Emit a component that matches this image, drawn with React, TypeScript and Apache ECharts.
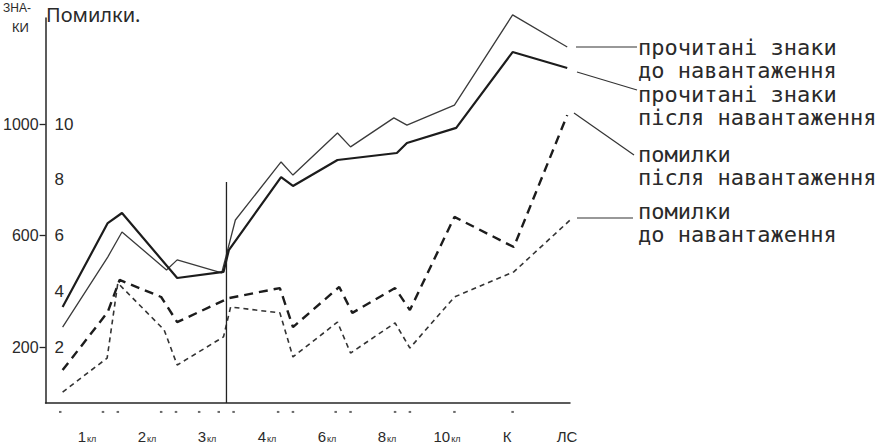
import React, { useEffect, useRef } from "react";
import * as echarts from "echarts";

// Stages along the horizontal axis
const stages = ["1кл", "2кл", "3кл", "4кл", "6кл", "8кл", "10кл", "К", "ЛС"];

// Read characters before the load (знаки)
const readBeforeX = [0.57, 1.33, 1.57, 2.32, 2.5, 3.25, 3.48, 4.25, 4.45, 5.2, 5.42, 6.15, 6.37, 7.17, 8.15, 9.07];
const readBeforeVals = [272, 523, 613, 477, 513, 466, 656, 864, 817, 968, 918, 1022, 996, 1068, 1391, 1276];

// Read characters after the load (знаки)
const readAfterX = [0.57, 1.33, 1.57, 2.5, 3.28, 3.37, 4.25, 4.45, 5.2, 6.2, 6.37, 7.2, 8.15, 9.07];
const readAfterVals = [344, 645, 681, 448, 470, 548, 810, 778, 871, 896, 932, 986, 1258, 1201];

// Errors after the load (помилки)
const errAfterX = [0.57, 1.33, 1.53, 2.23, 2.5, 3.37, 4.23, 4.45, 5.23, 5.45, 6.17, 6.42, 7.17, 8.17, 9.07];
const errAfterVals = [1.18, 3.26, 4.41, 3.8, 2.9, 3.76, 4.12, 2.72, 4.16, 3.23, 4.12, 3.33, 6.67, 5.59, 10.32];

// Errors before the load (помилки)
const errBeforeX = [0.57, 1.32, 1.5, 2.28, 2.5, 3.28, 3.4, 4.23, 4.45, 5.2, 5.42, 6.17, 6.42, 7.17, 8.17, 9.12];
const errBeforeVals = [0.39, 1.61, 4.3, 2.62, 1.36, 2.37, 3.44, 3.23, 1.65, 2.9, 1.79, 2.87, 1.97, 3.8, 4.7, 6.56];

// Measurement marks under the axis
const markX = [0.53, 1.25, 1.5, 2.23, 2.48, 2.87, 3.2, 3.45, 4.2, 4.45, 5.17, 5.42, 6.17, 6.42, 7.17, 8.15];
const markLevel = -32;

// Separator between the two phases
const separatorX = 3.33;
const separatorTop = 792;

const signTicks = [200, 600, 1000];
const errorTicks = [2, 4, 6, 8, 10];

const zip = (xs: number[], ys: number[]) => xs.map((x, i) => [x, ys[i]]);

const INK = "#262626";
const MONO = "'DejaVu Sans Mono', 'Liberation Mono', monospace";
const NARROW = "'Liberation Sans Narrow', 'Liberation Sans', 'DejaVu Sans Condensed', sans-serif";

export default function App() {
  const ref = useRef<HTMLDivElement>(null);

  useEffect(() => {
    if (!ref.current) return;
    const chart = echarts.init(ref.current, undefined, { renderer: "svg" });

    const legendText = (top: number, text: string) => ({
      type: "text",
      left: 638,
      top,
      style: {
        text,
        font: `22px ${MONO}`,
        fill: "#2a2a2a",
        lineHeight: 23,
      },
    });
    const leader = (x1: number, y1: number, x2: number, y2: number) => ({
      type: "line",
      shape: { x1, y1, x2, y2 },
      style: { stroke: "#333", lineWidth: 1.2 },
    });

    chart.setOption({
      animation: false,
      backgroundColor: "#ffffff",
      grid: [
        { left: 40, top: 18, width: 530, bottom: 44 },
        { left: 57, width: 540, top: 420, height: 1 },
      ],
      xAxis: [
        {
          type: "value",
          gridIndex: 0,
          min: 0.2833,
          max: 9.1167,
          axisLine: { show: true, onZero: false, lineStyle: { color: INK, width: 1.5 } },
          axisTick: { show: false },
          axisLabel: { show: false },
          splitLine: { show: false },
        },
        {
          type: "category",
          gridIndex: 1,
          data: stages,
          axisLine: { show: false },
          axisTick: { show: false },
          axisLabel: {
            interval: 0,
            margin: 8,
            color: "#2a2a2a",
            formatter: (v: string) => {
              if (v.endsWith("кл")) {
                return `{n|${v.slice(0, -2)}}{s|кл}`;
              }
              return `{n|${v}}`;
            },
            rich: {
              n: { fontSize: 15, fontFamily: NARROW, color: "#2a2a2a" },
              s: { fontSize: 9, fontFamily: NARROW, color: "#2a2a2a", padding: [4, 0, 0, 1] },
            },
          },
        },
      ],
      yAxis: [
        {
          type: "value",
          gridIndex: 0,
          min: 0,
          max: 1380,
          interval: 200,
          axisLine: { show: true, lineStyle: { color: INK, width: 1.5 } },
          axisTick: { show: true, length: 6, customValues: signTicks, lineStyle: { color: INK, width: 1.3 } },
          axisLabel: {
            customValues: signTicks,
            formatter: (v: number) => String(v),
            margin: 7,
            fontSize: 16,
            fontFamily: NARROW,
            color: "#2a2a2a",
          },
          splitLine: { show: false },
        },
        {
          type: "value",
          gridIndex: 0,
          position: "left",
          min: 0,
          max: 13.8,
          axisLine: { show: false },
          axisTick: { show: false },
          axisLabel: {
            inside: true,
            customValues: errorTicks,
            formatter: (v: number) => String(v),
            margin: 9,
            fontSize: 17,
            fontFamily: NARROW,
            color: "#2a2a2a",
          },
          splitLine: { show: false },
        },
        { type: "value", gridIndex: 1, show: false },
      ],
      series: [
        {
          name: "прочитані знаки до навантаження",
          type: "line",
          xAxisIndex: 0,
          yAxisIndex: 0,
          data: zip(readBeforeX, readBeforeVals),
          symbol: "none",
          clip: false,
          lineStyle: { color: "#3a3a3a", width: 1.3 },
        },
        {
          name: "прочитані знаки після навантаження",
          type: "line",
          xAxisIndex: 0,
          yAxisIndex: 0,
          data: zip(readAfterX, readAfterVals),
          symbol: "none",
          clip: false,
          lineStyle: { color: "#1c1c1c", width: 2.2 },
        },
        {
          name: "помилки після навантаження",
          type: "line",
          xAxisIndex: 0,
          yAxisIndex: 1,
          data: zip(errAfterX, errAfterVals),
          symbol: "none",
          clip: false,
          lineStyle: { color: "#1c1c1c", width: 2.4, type: [9, 6] },
        },
        {
          name: "помилки до навантаження",
          type: "line",
          xAxisIndex: 0,
          yAxisIndex: 1,
          data: zip(errBeforeX, errBeforeVals),
          symbol: "none",
          clip: false,
          lineStyle: { color: "#333", width: 1.6, type: [5, 4] },
        },
        {
          name: "separator",
          type: "line",
          xAxisIndex: 0,
          yAxisIndex: 0,
          data: [
            [separatorX, 0],
            [separatorX, separatorTop],
          ],
          symbol: "none",
          lineStyle: { color: "#222", width: 1.3 },
        },
        {
          name: "marks",
          type: "scatter",
          xAxisIndex: 0,
          yAxisIndex: 0,
          data: markX.map((x) => [x, markLevel]),
          symbol: "rect",
          symbolSize: [2.5, 2],
          clip: false,
          itemStyle: { color: "#444" },
        },
      ],
      graphic: [
        { type: "text", left: 3, top: 2, style: { text: "ЗНА-", font: `12px ${NARROW}`, fill: "#2a2a2a" } },
        { type: "text", left: 12, top: 21, style: { text: "КИ", font: `13px ${NARROW}`, fill: "#2a2a2a" } },
        { type: "text", left: 46, top: 4, style: { text: "Помилки.", font: `20px 'Noto Sans', sans-serif`, fill: "#2a2a2a" } },
        legendText(36, "прочитані знаки\nдо навантаження"),
        legendText(83, "прочитані знаки\nпісля навантаження"),
        legendText(143, "помилки\nпісля навантаження"),
        legendText(200, "помилки\nдо навантаження"),
        leader(576, 47, 637, 47),
        leader(577, 72, 637, 90),
        leader(574, 113, 634, 155),
        leader(577, 218, 633, 218),
      ],
    });

    return () => chart.dispose();
  }, []);

  return (
    <div
      ref={ref}
      style={{ position: "fixed", left: 0, top: 0, width: 893, height: 447, background: "#fff" }}
    />
  );
}
